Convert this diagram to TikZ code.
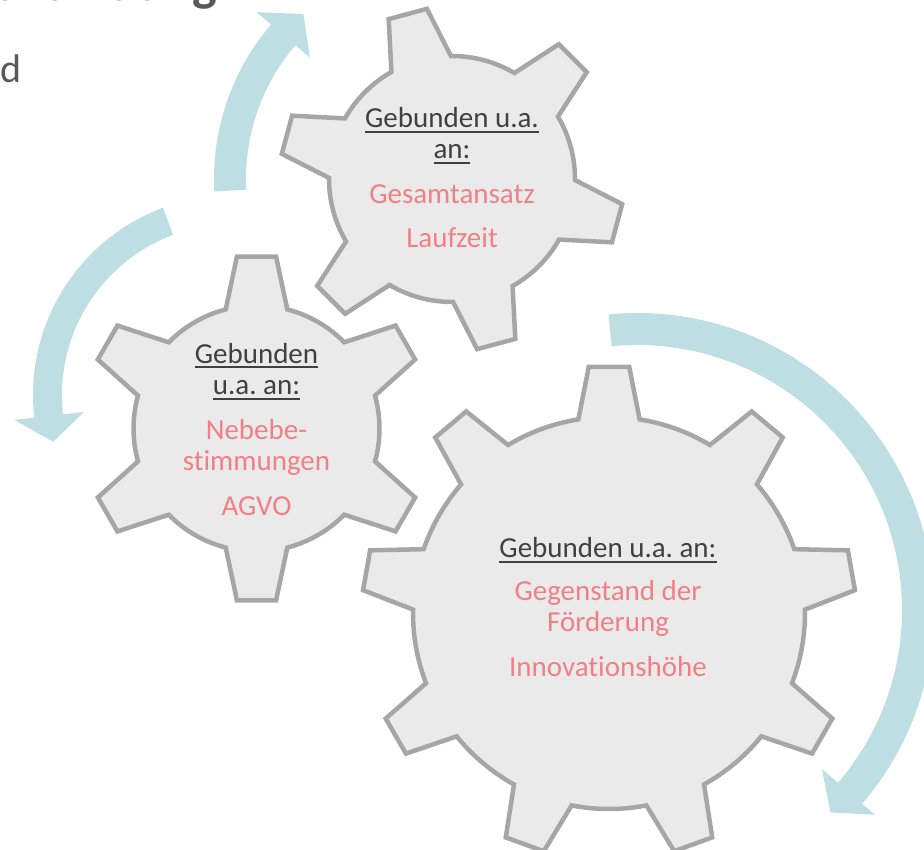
\documentclass[tikz,border=0pt]{standalone}
\usepackage{fontspec}
\setmainfont[Ligatures={NoCommon}]{Carlito}
\frenchspacing
\definecolor{gearfill}{RGB}{234,234,234}
\definecolor{gearline}{RGB}{166,166,166}
\definecolor{hdrgray}{RGB}{64,64,64}
\definecolor{pinktext}{RGB}{241,128,134}
\definecolor{arrowblue}{RGB}{189,222,226}
\definecolor{headgray}{RGB}{89,89,89}
\tikzset{
  gearshape/.style={draw=gearline, fill=gearfill, line width=4.5pt, line join=miter},
  cyclearrow/.style={fill=arrowblue, draw=none},
  geartext/.style={align=center, anchor=base, inner sep=0pt, text=hdrgray,
    font=\fontsize{29}{31.5}\selectfont},
}
\newcommand\hdr[1]{\setbox0\hbox{#1}\rlap{\color{hdrgray}\rule[-5.2pt]{\wd0}{1.9pt}}\box0}
\newcommand\pk[1]{\textcolor{pinktext}{#1}}
\newcommand\drawgear[8]{% cx cy n theta0 R r alpha_tip alpha_base
  \begin{scope}[shift={(#1,#2)}]
    \pgfmathsetmacro\gstep{360/#3}
    \draw[gearshape] ({#4-#8}:#6) \foreach \k in {1,...,#3}{
      -- ({#4+(\k-1)*\gstep-#7}:#5) -- ({#4+(\k-1)*\gstep+#7}:#5)
      -- ({#4+(\k-1)*\gstep+#8}:#6)
      arc[start angle={#4+(\k-1)*\gstep+#8}, end angle={#4+\k*\gstep-#8}, radius=#6]
    } -- cycle;
  \end{scope}}
\begin{document}
\begin{tikzpicture}[x=1pt,y=-1pt]
\useasboundingbox (0,0) rectangle (924,850);
\clip (0,0) rectangle (924,850);

% partial heading and body text cut by the frame
\node[anchor=base east, inner sep=0pt, text=headgray,
  font=\fontsize{52}{56}\selectfont\bfseries] (title) at (217,0.5) {Zweckbindung};
\node[anchor=base west, inner sep=0pt, text=headgray,
  font=\fontsize{40}{48}\selectfont] (frag) at (0,83) {d};

% circular arrows
\begin{scope}[shift={(452,179)}]
  \fill[cyclearrow] (177:238) arc[start angle=177, end angle=220.5, radius=238]
    -- (220.5:257) -- (228:222) -- (220.5:187) -- (220.5:206)
    arc[start angle=220.5, end angle=177, radius=206] -- cycle;
\end{scope}
\begin{scope}[shift={(233,395)}]
  \fill[cyclearrow] (249.5:200) arc[start angle=249.5, end angle=173.5, radius=200]
    -- (173.5:220) -- (165.4:186) -- (173.5:150) -- (173.5:171)
    arc[start angle=173.5, end angle=249.5, radius=171] -- cycle;
\end{scope}
\begin{scope}[shift={(637,610)}]
  \fill[cyclearrow] (264.5:297) arc[start angle=264.5, end angle=400.7, radius=297]
    -- (400.7:314) -- (406.3:280) -- (400.7:244) -- (400.7:265)
    arc[start angle=400.7, end angle=264.5, radius=265] -- cycle;
\end{scope}

% gears
\drawgear{452}{179}{6}{15}{172}{123}{6.6}{14.5}
\drawgear{256.5}{428.5}{6}{30}{173}{123}{6.5}{14.5}
\drawgear{609}{613}{9}{30}{247}{196}{4.7}{9}

% texts (anchor base = baseline of the last line)
\node[geartext] (topgear) at (452,248)
  {\hdr{Gebunden u.a.}\\ \hdr{an:}\\[13pt] \pk{Gesamtansatz}\\[13pt] \pk{Laufzeit}};
\node[geartext] (leftgear) at (256.5,515)
  {\hdr{Gebunden}\\ \hdr{u.a. an:}\\[13pt] \pk{Nebebe-}\\ \pk{stimmungen}\\[13pt] \pk{AGVO}};
\node[geartext] (biggear) at (608,676)
  {\hdr{Gebunden u.a. an:}\\[11pt] \pk{Gegenstand der}\\ \pk{Förderung}\\[13pt] \pk{Innovationshöhe}};
\end{tikzpicture}
\end{document}
